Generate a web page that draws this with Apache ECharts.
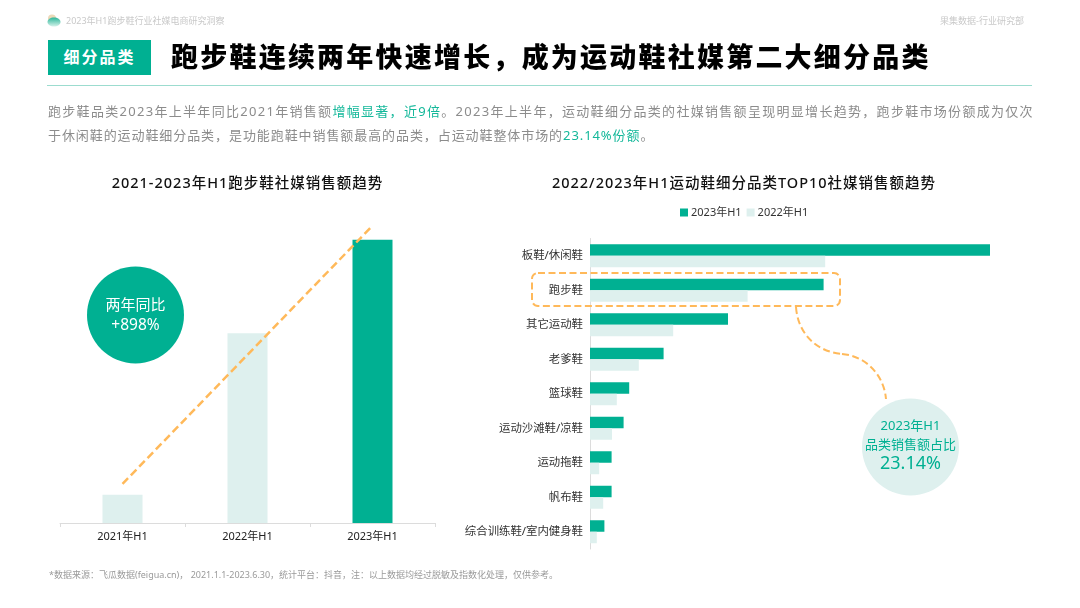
<!DOCTYPE html>
<html>
<head>
<meta charset="utf-8">
<script src="https://cdn.jsdelivr.net/npm/echarts@6/dist/echarts.min.js"></script>
<style>
  html, body { margin: 0; padding: 0; background: #fff; }
  #page { position: relative; width: 1080px; height: 608px; overflow: hidden; font-family: "Noto Sans", "Noto Sans CJK SC", sans-serif; }
  #chart { position: absolute; left: 0; top: 0; width: 1080px; height: 608px; }
  .txt { position: absolute; white-space: nowrap; }
  .hi { color: #14B89A; }
  .para { left: 48px; font-size: 13px; line-height: 24px; color: #8c8c8c; }
  .sub { top: 171px; font-size: 14.5px; line-height: 22px; font-weight: 500; color: #111; transform: translateX(-50%); }
</style>
</head>
<body>
<div id="page">
  <div id="chart"></div>
  <div class="txt" style="left:66px;top:14px;font-size:9px;line-height:14px;color:#c9c9c9">2023年H1跑步鞋行业社媒电商研究洞察</div>
  <div class="txt" style="left:940px;top:14px;font-size:9px;line-height:14px;color:#c9c9c9">果集数据-行业研究部</div>
  <div class="txt" style="left:48px;top:40px;width:103px;height:35px;line-height:34px;background:#00B092;color:#fff;text-align:center;font-size:16px;font-weight:700;letter-spacing:2px">细分品类</div>
  <div class="txt" style="left:171px;top:37px;font-size:27px;line-height:40px;font-weight:900;color:#000;letter-spacing:2.22px">跑步鞋连续两年快速增长，成为运动鞋社媒第二大细分品类</div>
  <div class="txt" style="left:47px;top:85px;width:985px;height:1px;background:#9CDCCF"></div>
  <div class="txt para" style="top:99px;letter-spacing:1.3px">跑步鞋品类2023年上半年同比2021年销售额<span class="hi">增幅显著，近9倍</span>。2023年上半年，运动鞋细分品类的社媒销售额呈现明显增长趋势，跑步鞋市场份额成为仅次</div>
  <div class="txt para" style="top:123px;letter-spacing:.92px">于休闲鞋的运动鞋细分品类，是功能跑鞋中销售额最高的品类，占运动鞋整体市场的<span class="hi">23.14%份额</span>。</div>
  <div class="txt sub" style="left:247.5px;letter-spacing:1px">2021-2023年H1跑步鞋社媒销售额趋势</div>
  <div class="txt sub" style="left:744px;letter-spacing:1px">2022/2023年H1运动鞋细分品类TOP10社媒销售额趋势</div>
  <div class="txt" style="left:49px;top:568px;font-size:9px;line-height:14px;color:#9a9a9a">*数据来源：飞瓜数据(feigua.cn)， 2021.1.1-2023.6.30，统计平台：抖音，注：以上数据均经过脱敏及指数化处理，仅供参考。</div>
</div>
<script>
// 左图：跑步鞋销售额趋势
const yearLabels = ['2021年H1', '2022年H1', '2023年H1'];
const yearValues = [10, 67, 100];
const trendValues = [13.8, 59.4, 105];

// 右图：细分品类
const categories = ['板鞋/休闲鞋', '跑步鞋', '其它运动鞋', '老爹鞋', '篮球鞋', '运动沙滩鞋/凉鞋', '运动拖鞋', '帆布鞋', '综合训练鞋/室内健身鞋'];
const values2023 = [100, 58.4, 34.5, 18.4, 9.8, 8.4, 5.4, 5.4, 3.6];
const values2022 = [58.8, 39.4, 20.8, 12.2, 6.7, 5.5, 2.3, 3.3, 1.7];

const GREEN = '#00B092';
const LIGHT = '#DEF0EE';
const ORANGE = '#FFB95A';
const FONT = '"Noto Sans", "Noto Sans CJK SC", sans-serif';

const chart = echarts.init(document.getElementById('chart'));

function label(x, y, text, size, color) {
  return {
    type: 'text', z: 20,
    style: { x: x, y: y, text: text, fill: color, font: size + 'px ' + FONT, textAlign: 'center', textVerticalAlign: 'middle' }
  };
}

const dashStyle = { stroke: ORANGE, lineWidth: 2, lineDash: [7, 3.5], fill: null };

chart.setOption({
  animation: false,
  textStyle: { fontFamily: FONT },
  legend: {
    data: ['2023年H1', '2022年H1'],
    left: 675, top: 202, itemWidth: 8, itemHeight: 8, itemGap: 5, icon: 'rect',
    textStyle: { fontSize: 11, color: '#333', padding: [0, 0, 0, -2], fontFamily: FONT }
  },
  grid: [
    { left: 60, top: 220, width: 375, height: 303 },
    { left: 590, top: 238.5, width: 400, height: 310.5 }
  ],
  xAxis: [
    { type: 'category', gridIndex: 0, data: yearLabels,
      axisLine: { lineStyle: { color: '#dcdcdc' } },
      axisTick: { show: true, length: 4, lineStyle: { color: '#dcdcdc' } },
      axisLabel: { fontSize: 11, color: '#222', margin: 8, fontFamily: FONT } },
    { type: 'value', gridIndex: 1, min: 0, max: 100, show: false }
  ],
  yAxis: [
    { type: 'value', gridIndex: 0, min: 0, max: 107, show: false },
    { type: 'category', gridIndex: 1, data: categories, inverse: true,
      axisLine: { lineStyle: { color: '#dcdcdc' } },
      axisTick: { show: false },
      axisLabel: { fontSize: 11.4, color: '#333', margin: 7, fontFamily: FONT } }
  ],
  series: [
    { type: 'bar', xAxisIndex: 0, yAxisIndex: 0, barWidth: 40, silent: true,
      data: yearValues.map((v, i) => ({ value: v, itemStyle: { color: i === yearValues.length - 1 ? GREEN : LIGHT } })) },
    { type: 'line', xAxisIndex: 0, yAxisIndex: 0, data: trendValues, symbol: 'none', clip: false, z: 5,
      lineStyle: { color: ORANGE, width: 2.5, type: [8, 4] } },
    { name: '2023年H1', type: 'bar', xAxisIndex: 1, yAxisIndex: 1, data: values2023, barWidth: 11.5, barGap: 0,
      itemStyle: { color: GREEN } },
    { name: '2022年H1', type: 'bar', xAxisIndex: 1, yAxisIndex: 1, data: values2022, barWidth: 11.5, barGap: 0,
      itemStyle: { color: LIGHT } }
  ],
  graphic: [
    // logo
    { type: 'circle', z: 19, shape: { cx: 52, cy: 18.5, r: 4 }, style: { fill: '#EBD9B8' } },
    { type: 'ellipse', z: 20, shape: { cx: 54, cy: 22, rx: 6.5, ry: 4.5 },
      style: { fill: new echarts.graphic.LinearGradient(0, 0, 0, 1, [{ offset: 0, color: '#2DB79A' }, { offset: 1, color: '#D5F2EA' }]) } },
    // 左侧圆
    { type: 'circle', z: 19, shape: { cx: 135.5, cy: 315, r: 48.5 }, style: { fill: GREEN } },
    label(135.5, 306, '两年同比', 15, '#fff'),
    label(135.5, 326, '+898%', 15.5, '#fff'),
    // 跑步鞋高亮框和连接线
    { type: 'rect', z: 18, shape: { x: 532, y: 273, width: 308, height: 33, r: 6 }, style: dashStyle },
    { type: 'bezierCurve', z: 18, shape: { x1: 796, y1: 307, cpx1: 798, cpy1: 335, cpx2: 818, cpy2: 352, x2: 842, y2: 354 }, style: dashStyle },
    { type: 'bezierCurve', z: 18, shape: { x1: 842, y1: 354, cpx1: 866, cpy1: 356, cpx2: 884, cpy2: 375, x2: 886, y2: 399 }, style: dashStyle },
    // 右侧圆
    { type: 'circle', z: 19, shape: { cx: 910.5, cy: 447, r: 48.5 }, style: { fill: LIGHT } },
    label(910.5, 426.5, '2023年H1', 13, GREEN),
    label(910.5, 445, '品类销售额占比', 13, GREEN),
    label(910.5, 464, '23.14%', 18, GREEN)
  ]
});
</script>
</body>
</html>
